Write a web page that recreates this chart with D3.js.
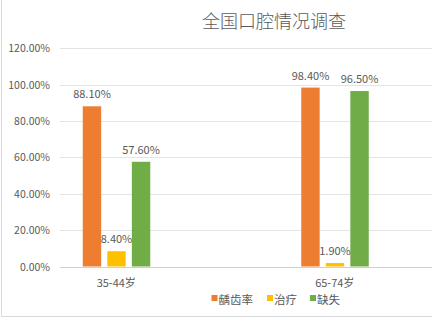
<!DOCTYPE html>
<html>
<head>
<meta charset="utf-8">
<script src="https://cdn.jsdelivr.net/npm/d3@7/dist/d3.min.js"></script>
<style>
  body { margin: 0; background: #fff; }
  text { font-family: "Noto Sans CJK SC", "Open Sans", sans-serif; fill: #595959; }
</style>
</head>
<body>
<div id="chart"></div>
<script>
// données
var categories = ["35-44岁", "65-74岁"];
var series = ["龋齿率", "治疗", "缺失"];
var couleurs = ["#ED7D31", "#FFC000", "#70AD47"];
var valeurs_3544 = [0.881, 0.084, 0.576];
var valeurs_6574 = [0.984, 0.019, 0.965];
var ticks_y = [0, 0.2, 0.4, 0.6, 0.8, 1.0, 1.2];

var lignes = [valeurs_3544, valeurs_6574];

var width = 432, height = 318;
// le graphique d'origine est plus large (recadré à droite)
var largeurTotale = 550;
var margin = { top: 48, left: 60, bottom: 51.5 };

var svg = d3.select("#chart").append("svg")
    .attr("width", width)
    .attr("height", height);

// bordure
svg.append("path")
    .attr("d", "M1.5,0 V316.5 H432")
    .attr("fill", "none")
    .attr("stroke", "#d9d9d9");

// titre
svg.append("text")
    .attr("x", 274)
    .attr("y", 28)
    .attr("text-anchor", "middle")
    .style("font-size", "18px")
    .style("font-weight", "300")
    .text("全国口腔情况调查");

// échelles
var y = d3.scaleLinear()
    .domain([0, 1.2])
    .range([266.5, 48.3]);

var x = d3.scaleBand()
    .domain(categories)
    .range([7, 444]);

var xInner = d3.scaleBand()
    .domain(series)
    .range([-33.5, 34])
    .paddingInner(0.25);

// grille
svg.append("g")
    .selectAll("line")
    .data(ticks_y)
    .enter().append("line")
    .attr("x1", margin.left)
    .attr("x2", largeurTotale)
    .attr("y1", function (d) { return Math.round(y(d)) + 0.5; })
    .attr("y2", function (d) { return Math.round(y(d)) + 0.5; })
    .attr("stroke", function (d) { return d === 0 ? "#d0d0d0" : "#e4e4e4"; })
    .attr("stroke-width", 1);

// axe y
svg.append("g")
    .selectAll("text")
    .data(ticks_y)
    .enter().append("text")
    .attr("x", 50)
    .attr("y", function (d) { return y(d) + 4; })
    .attr("text-anchor", "end")
    .style("font-size", "10.5px")
    .text(function (d) { return d3.format(".2%")(d); });

// barres
var groupes = svg.selectAll(".groupe")
    .data(categories)
    .enter().append("g")
    .attr("class", "groupe")
    .attr("transform", function (d) { return "translate(" + (x(d) + x.bandwidth() / 2) + ",0)"; });

groupes.selectAll("rect")
    .data(function (d, i) {
        return series.map(function (s, j) { return { serie: s, valeur: lignes[i][j], couleur: couleurs[j] }; });
    })
    .enter().append("rect")
    .attr("x", function (d) { return xInner(d.serie); })
    .attr("width", xInner.bandwidth())
    .attr("y", function (d) { return y(d.valeur); })
    .attr("height", function (d) { return y(0) - y(d.valeur); })
    .attr("fill", function (d) { return d.couleur; });

groupes.selectAll(".etiquette")
    .data(function (d, i) {
        return series.map(function (s, j) { return { serie: s, valeur: lignes[i][j] }; });
    })
    .enter().append("text")
    .attr("class", "etiquette")
    .attr("x", function (d) { return xInner(d.serie) + xInner.bandwidth() / 2; })
    .attr("y", function (d) { return y(d.valeur) - 8; })
    .attr("text-anchor", "middle")
    .style("font-size", "11px")
    .text(function (d) { return d3.format(".2%")(d.valeur); });

// étiquettes des catégories
groupes.append("text")
    .attr("y", 287)
    .attr("text-anchor", "middle")
    .style("font-size", "11px")
    .text(function (d) { return d; });

// légende
var legendePos = [211.5, 267, 310];
var legende = svg.selectAll(".legende")
    .data(series)
    .enter().append("g")
    .attr("class", "legende")
    .attr("transform", function (d, i) { return "translate(" + legendePos[i] + ",295)"; });

legende.append("rect")
    .attr("width", 6)
    .attr("height", 6)
    .attr("fill", function (d, i) { return couleurs[i]; });

legende.append("text")
    .attr("x", 7)
    .attr("y", 9)
    .style("font-size", "11.5px")
    .text(function (d) { return d; });
</script>
</body>
</html>
